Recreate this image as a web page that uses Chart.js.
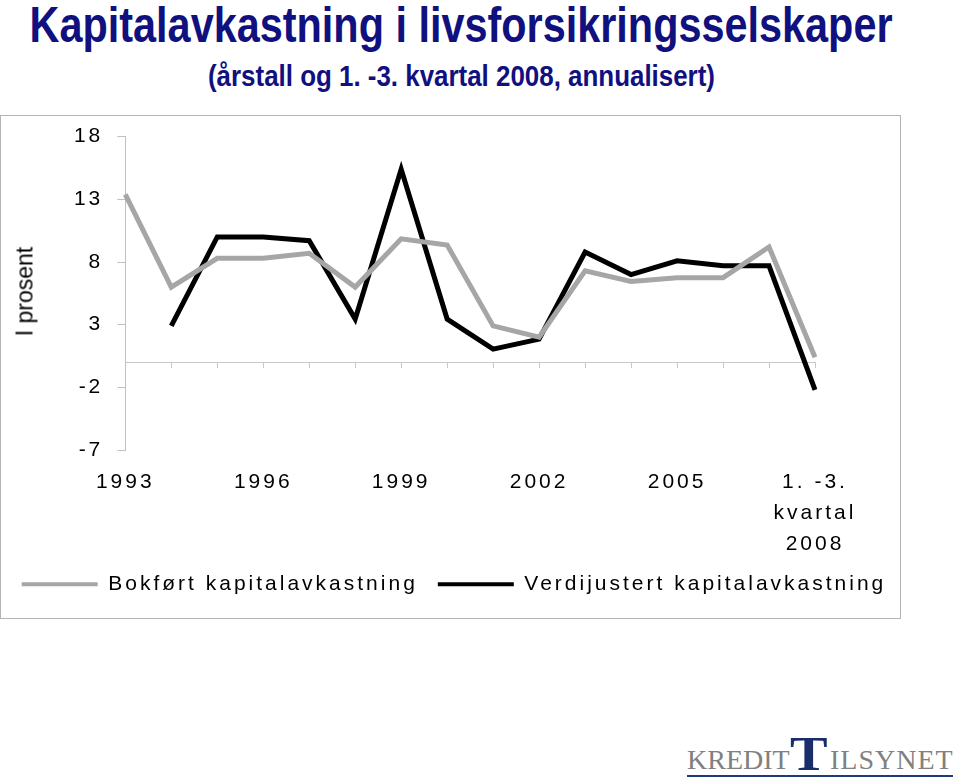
<!DOCTYPE html>
<html>
<head>
<meta charset="utf-8">
<script src="https://cdn.jsdelivr.net/npm/chart.js@4/dist/chart.umd.min.js"></script>
<style>
  html, body { margin: 0; padding: 0; background: #fff; }
  body { width: 960px; height: 781px; position: relative; overflow: hidden; }
  .ttl { position: absolute; left: -538.5px; width: 2000px; text-align: center; font-family: "Liberation Sans Narrow", "Liberation Sans", Arial, sans-serif; font-weight: bold; color: #10107f; white-space: nowrap; }
  .ttl span { display: inline-block; transform-origin: center; }
  #t1 { top: 0px; font-size: 50px; line-height: 50px; }
  #t2 { top: 61px; font-size: 30px; line-height: 30px; }
  #box { position: absolute; left: 0; top: 115px; width: 901px; height: 504px; border: 1px solid #b4b4b4; box-sizing: border-box; }
  #c { position: absolute; left: 0; top: 0; }
  #ytitle { position: absolute; left: -78px; top: 164px; width: 200px; height: 23px; line-height: 23px; font: 23px "Liberation Sans", Arial, sans-serif; text-align: center; transform: rotate(-90deg); color: #000; white-space: nowrap; }
  .logo { position: absolute; font-family: "Liberation Serif", "Times New Roman", serif; white-space: nowrap; }
</style>
</head>
<body>
<div class="ttl" id="t1"><span>Kapitalavkastning i livsforsikringsselskaper</span></div>
<div class="ttl" id="t2"><span>(årstall og 1. -3. kvartal 2008, annualisert)</span></div>
<div id="box">
  <canvas id="c" width="906" height="502"></canvas>
  <div id="ytitle">I prosent</div>
</div>
<div class="logo" style="left:687px; top:746px; font-size:28px; line-height:28px; color:#808080;">KREDIT</div>
<div class="logo" style="left:790px; top:729px; font-size:49px; line-height:49px; color:#1a2d6b; font-weight:bold; transform:scaleX(1.15); transform-origin:left;">T</div>
<div class="logo" style="left:830px; top:746px; font-size:28px; line-height:28px; color:#808080; letter-spacing:1px;">ILSYNET</div>
<div style="position:absolute; left:687px; top:775px; width:266px; height:2px; background:#1f3a7a;"></div>

<script>
// ---- Data ----
const categories = ['1993','1994','1995','1996','1997','1998','1999','2000','2001','2002','2003','2004','2005','2006','2007','1. -3. kvartal 2008'];
const xTickLabels = ['1993','','','1996','','','1999','','','2002','','','2005','','',['1. -3.','kvartal','2008']];
const bokfort = [13.4, 6.0, 8.3, 8.3, 8.7, 6.0, 9.85, 9.35, 2.9, 2.0, 7.3, 6.45, 6.75, 6.75, 9.2, 0.4];
const verdijustert = [null, 2.9, 10.0, 10.0, 9.7, 3.45, 15.4, 3.45, 1.05, 1.85, 8.8, 7.0, 8.1, 7.7, 7.7, -2.2];
const yTicks = [18, 13, 8, 3, -2, -7];
const seriesNames = ['Bokført kapitalavkastning', 'Verdijustert kapitalavkastning'];

// fit titles to reference widths
function fitSpan(id, target) {
  const s = document.querySelector('#' + id + ' span');
  const w = s.getBoundingClientRect().width;
  if (w > 0) s.style.transform = 'scaleX(' + (target / w) + ')';
}
fitSpan('t1', 863);
fitSpan('t2', 507);

const SPACING = '3px';
const spacingPlugin = {
  id: 'spacing',
  beforeUpdate(chart) { chart.ctx.letterSpacing = SPACING; },
  beforeLayout(chart) { chart.ctx.letterSpacing = SPACING; },
  beforeDraw(chart) { chart.ctx.letterSpacing = SPACING; }
};

Chart.defaults.color = '#000';
Chart.defaults.font.family = '"Liberation Sans", Arial, sans-serif';

new Chart(document.getElementById('c'), {
  type: 'line',
  data: {
    labels: categories,
    datasets: [
      { label: seriesNames[0], data: bokfort, borderColor: '#a6a6a6', backgroundColor: '#a6a6a6', borderWidth: 5, pointRadius: 0, tension: 0, borderCapStyle: 'butt', borderJoinStyle: 'miter', xAxisID: 'x', yAxisID: 'y' },
      { label: seriesNames[1], data: verdijustert, borderColor: '#000000', backgroundColor: '#000000', borderWidth: 5, pointRadius: 0, tension: 0, borderCapStyle: 'butt', borderJoinStyle: 'miter', xAxisID: 'x', yAxisID: 'y' }
    ]
  },
  options: {
    responsive: false,
    animation: false,
    devicePixelRatio: 1,
    layout: { padding: { top: 20.7, left: 0, right: 0, bottom: 13.2 } },
    plugins: {
      title: { display: false },
      tooltip: { enabled: false },
      legend: {
        position: 'bottom',
        labels: {
          boxWidth: 76,
          boxHeight: 4,
          padding: 20,
          font: { size: 21 },
          color: '#000',
          generateLabels(chart) {
            return chart.data.datasets.map((d, i) => ({
              text: d.label, fillStyle: d.borderColor, strokeStyle: d.borderColor, lineWidth: 0, hidden: false, datasetIndex: i
            }));
          }
        }
      }
    },
    scales: {
      x: {
        type: 'category',
        position: 'bottom',
        offset: false,
        grid: { display: false, drawTicks: false },
        border: { display: false },
        ticks: {
          autoSkip: false, maxRotation: 0, minRotation: 0, padding: 17,
          font: { size: 21, lineHeight: 1.476 },
          color: '#000',
          callback: (v, i) => xTickLabels[i]
        },
        afterFit(s) { s.height = 103.8; }
      },
      x2: {
        type: 'category',
        position: { y: 0 },
        offset: false,
        grid: { display: true, drawOnChartArea: false, drawTicks: true, tickLength: 5, color: '#c8c8c8', offset: false },
        border: { display: true, color: '#c8c8c8', width: 1 },
        ticks: { display: false }
      },
      y: {
        type: 'linear',
        position: 'left',
        min: -7,
        max: 18,
        grid: { display: true, drawOnChartArea: false, drawTicks: true, tickLength: 8, color: '#c0c0c0' },
        border: { display: true, color: '#c0c0c0', width: 1 },
        ticks: { padding: 14, font: { size: 21, lineHeight: 0.6 }, color: '#000' },
        afterBuildTicks(s) { s.ticks = yTicks.map(v => ({ value: v })); },
        afterFit(s) { s.width = 124.3; }
      },
      yR: {
        type: 'linear',
        position: 'right',
        display: true,
        grid: { display: false, drawTicks: false },
        border: { display: false },
        ticks: { display: false },
        afterFit(s) { s.width = 92; }
      }
    }
  },
  plugins: [spacingPlugin]
});
</script>
</body>
</html>
